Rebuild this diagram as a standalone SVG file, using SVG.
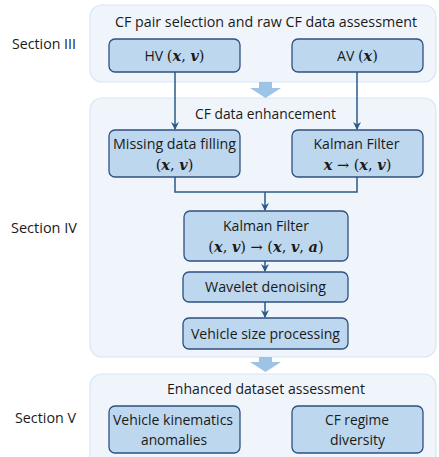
<svg xmlns="http://www.w3.org/2000/svg" width="439" height="457" viewBox="0 0 439 457">
<defs>
<style>
.panel{fill:#f0f5fb;stroke:#d9e6f3;stroke-width:1.2}
.box{fill:#bdd7ee;stroke:#2e4f80;stroke-width:1.3}
.t{font-family:"Open Sans","Liberation Sans",sans-serif;font-size:14px;fill:#1a1a1a;text-anchor:middle}
.s{font-family:"Open Sans","Liberation Sans",sans-serif;font-size:14px;fill:#1a1a1a;text-anchor:start}
.m{font-family:"DejaVu Serif","Liberation Serif",serif;font-style:italic;font-weight:bold;font-size:14.5px}
.u{font-family:"DejaVu Serif","Liberation Serif",serif;font-weight:normal;font-size:14.5px}
.c{fill:none;stroke:#2a5a8a;stroke-width:1.5}
.big{fill:#9dc3e6}
</style>
<marker id="ah" markerWidth="8" markerHeight="8" refX="7" refY="4" orient="auto" markerUnits="userSpaceOnUse">
<path d="M0,0 L8,4 L0,8 L2.5,4 Z" fill="#2a5a8a"/>
</marker>
</defs>
<rect width="439" height="457" fill="#ffffff"/>
<g id="panels">
<rect class="panel" x="90" y="5" width="346" height="77" rx="12"/>
<rect class="panel" x="90" y="98" width="346" height="259" rx="12"/>
<rect class="panel" x="90" y="374" width="346" height="95" rx="12"/>
<text class="t" x="266" y="26.5" textLength="302" lengthAdjust="spacingAndGlyphs">CF pair selection and raw CF data assessment</text>
<text class="t" x="265.5" y="118.5" textLength="141" lengthAdjust="spacingAndGlyphs">CF data enhancement</text>
<text class="t" x="266" y="393.5" textLength="198" lengthAdjust="spacingAndGlyphs">Enhanced dataset assessment</text>
</g>
<g id="labels">
<text class="s" x="12" y="49" textLength="64" lengthAdjust="spacingAndGlyphs">Section III</text>
<text class="s" x="11" y="233" textLength="66" lengthAdjust="spacingAndGlyphs">Section IV</text>
<text class="s" x="15" y="423" textLength="61" lengthAdjust="spacingAndGlyphs">Section V</text>
</g>
<g id="bigarrows">
<path class="big" d="M259,82 H272 V88 H281 L265.5,98 L250,88 H259 Z"/>
<path class="big" d="M259,357 H272 V362 H281 L265.5,372 L250,362 H259 Z"/>
</g>
<g id="connectors">
<line class="c" x1="175" y1="72" x2="175" y2="129" marker-end="url(#ah)"/>
<line class="c" x1="357" y1="72" x2="357" y2="129" marker-end="url(#ah)"/>
<polyline class="c" points="175,177 175,192 357,192 357,177"/>
<line class="c" x1="265" y1="192" x2="265" y2="210" marker-end="url(#ah)"/>
<line class="c" x1="265" y1="261" x2="265" y2="271" marker-end="url(#ah)"/>
<line class="c" x1="265" y1="302" x2="265" y2="317" marker-end="url(#ah)"/>
</g>
<g id="hv">
<rect class="box" x="109" y="39" width="131" height="33" rx="6"/>
<text class="t" x="174.5" y="60.5">HV <tspan class="u">(</tspan><tspan class="m">x</tspan><tspan class="u">, </tspan><tspan class="m">v</tspan><tspan class="u">)</tspan></text>
</g>
<g id="av">
<rect class="box" x="292" y="39" width="131" height="33" rx="6"/>
<text class="t" x="357.5" y="60.5">AV <tspan class="u">(</tspan><tspan class="m">x</tspan><tspan class="u">)</tspan></text>
</g>
<g id="missing">
<rect class="box" x="109" y="130" width="131" height="47" rx="6"/>
<text class="t" x="174.5" y="149" textLength="123" lengthAdjust="spacingAndGlyphs">Missing data filling</text>
<text class="t" x="174.5" y="169.5"><tspan class="u">(</tspan><tspan class="m">x</tspan><tspan class="u">, </tspan><tspan class="m">v</tspan><tspan class="u">)</tspan></text>
</g>
<g id="kalman1">
<rect class="box" x="292" y="130" width="131" height="47" rx="6"/>
<text class="t" x="356.5" y="149" textLength="86" lengthAdjust="spacingAndGlyphs">Kalman Filter</text>
<text class="t" x="357.5" y="169.5"><tspan class="m">x</tspan><tspan class="u"> → (</tspan><tspan class="m">x</tspan><tspan class="u">, </tspan><tspan class="m">v</tspan><tspan class="u">)</tspan></text>
</g>
<g id="kalman2">
<rect class="box" x="184" y="211" width="164" height="50" rx="6"/>
<text class="t" x="266" y="230.5" textLength="86" lengthAdjust="spacingAndGlyphs">Kalman Filter</text>
<text class="t" x="266" y="252"><tspan class="u">(</tspan><tspan class="m">x</tspan><tspan class="u">, </tspan><tspan class="m">v</tspan><tspan class="u">) → (</tspan><tspan class="m">x</tspan><tspan class="u">, </tspan><tspan class="m">v</tspan><tspan class="u">, </tspan><tspan class="m">a</tspan><tspan class="u">)</tspan></text>
</g>
<g id="wavelet">
<rect class="box" x="183" y="272" width="165" height="30" rx="6"/>
<text class="t" x="265.5" y="292" textLength="121" lengthAdjust="spacingAndGlyphs">Wavelet denoising</text>
</g>
<g id="vsize">
<rect class="box" x="183" y="318" width="165" height="31" rx="6"/>
<text class="t" x="265.5" y="338.5" textLength="149" lengthAdjust="spacingAndGlyphs">Vehicle size processing</text>
</g>
<g id="kinematics">
<rect class="box" x="109" y="406" width="131" height="47" rx="6"/>
<text class="t" x="173" y="425" textLength="120" lengthAdjust="spacingAndGlyphs">Vehicle kinematics</text>
<text class="t" x="174" y="445" textLength="66" lengthAdjust="spacingAndGlyphs">anomalies</text>
</g>
<g id="regime">
<rect class="box" x="292" y="406" width="131" height="47" rx="6"/>
<text class="t" x="357" y="425" textLength="64" lengthAdjust="spacingAndGlyphs">CF regime</text>
<text class="t" x="357.5" y="445" textLength="55" lengthAdjust="spacingAndGlyphs">diversity</text>
</g>
</svg>
